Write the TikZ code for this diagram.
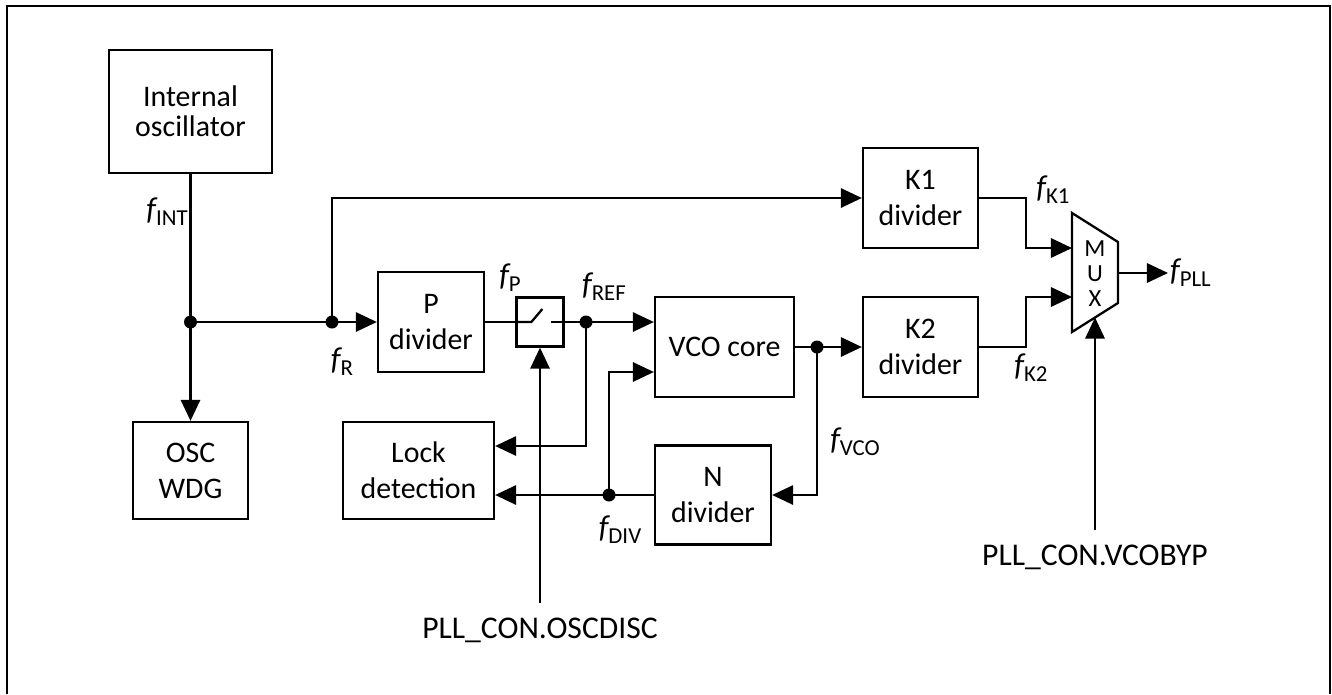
\documentclass[tikz,border=0pt]{standalone}
\usepackage{fontspec}
\setmainfont{Carlito}
\usetikzlibrary{arrows.meta,positioning}
\newcommand{\freq}[1]{{\fontsize{18}{18}\selectfont\itshape f}\raisebox{-3.5pt}{\fontsize{13}{13}\selectfont #1}}

\begin{document}
\begin{tikzpicture}[
    x=0.02cm, y=-0.02cm,
    box/.style={draw,line width=1.3pt,align=center,inner sep=0pt,minimum width=2.3cm,minimum height=2cm,font=\fontsize{17}{20.5}\selectfont},
    arrow/.style={-{Triangle[length=12pt,width=11pt]},line width=1.3pt},
    wire/.style={line width=1.3pt},
    dot/.style={circle,fill,inner sep=0pt,minimum size=0.26cm},
    flabel/.style={inner sep=1pt},
    ctrl/.style={inner xsep=0pt,inner ysep=8pt,font=\fontsize{18}{18}\selectfont}
  ]
    \useasboundingbox (0,0) rectangle (1332,694);
    \draw[line width=1.1pt] (7,694) -- (7,6) -- (1330,6) -- (1330,694);

    \node[box,minimum width=3.26cm,minimum height=2.46cm,font=\fontsize{17}{17}\selectfont] (osc) at (190.5,111.5) {Internal\\oscillator};
    \node[box,minimum height=1.94cm] (wdg) at (190.5,470.5) {OSC\\WDG};
    \node[box,minimum width=2.12cm] (pdiv) at (431,322) {P\\divider};
    \node[draw,line width=1.3pt,minimum width=0.94cm,minimum height=0.98cm,inner sep=0pt] (sw) at (540,322) {};
    \node[box,minimum width=2.78cm] (vco) at (724.5,347) {VCO core};
    \node[box] (k1div) at (920.5,198) {K1\\divider};
    \node[box] (k2div) at (920.5,347) {K2\\divider};
    \node[box,minimum width=3.02cm,minimum height=1.94cm] (lock) at (418.5,470.5) {Lock\\detection};
    \node[box,minimum width=2.32cm,minimum height=1.98cm] (ndiv) at (713,495) {N\\divider};

    \node[dot] (j1) at (190.5,322) {};
    \node[dot] (j2) at (332,322) {};
    \node[dot] (j3) at (586,322) {};
    \node[dot] (j4) at (609,495) {};
    \node[dot] (j5) at (817,347) {};

    \coordinate (mux-a) at (1072,213);
    \coordinate (mux-b) at (1118,242);
    \coordinate (mux-c) at (1118,303);
    \coordinate (mux-d) at (1072,332);
    \coordinate (mux-in1) at (1072,248);
    \coordinate (mux-in2) at (1072,297);
    \coordinate (mux-out) at (1118,273);
    \coordinate (mux-sel) at (1095,317.5);
    \draw[wire] (mux-a) -- (mux-b) -- (mux-c) -- (mux-d) -- cycle;
    \node[font=\fontsize{14}{14.2}\selectfont,align=center,inner sep=0pt] (muxtxt) at (1095,274) {M\\U\\X};

    \node[flabel] (fint) at (167,212) {\freq{INT}};
    \node[flabel] (fr) at (342,362) {\freq{R}};
    \node[flabel] (fp) at (510,278) {\freq{P}};
    \node[flabel] (fref) at (604,287) {\freq{REF}};
    \node[flabel] (fk1) at (1053,190) {\freq{K1}};
    \node[flabel] (fk2) at (1031,368) {\freq{K2}};
    \node[flabel] (fvco) at (855,442) {\freq{VCO}};
    \node[flabel] (fdiv) at (620,530) {\freq{DIV}};
    \node[flabel,anchor=west] (fpll) at (1168,273) {\freq{PLL}};

    \node[ctrl] (oscdisc) at (540,630) {PLL\_CON.OSCDISC};
    \node[ctrl] (vcobyp) at (1095,557) {PLL\_CON.VCOBYP};

    \draw[wire] (osc) -- (j1.center);
    \draw[arrow] (j1.center) -- (wdg);
    \draw[wire] (j1.center) -- (j2.center);
    \draw[arrow] (j2.center) -- (pdiv);
    \draw[arrow] (j2.center) |- (k1div);
    \draw[wire] (pdiv) -- (sw);
    \draw[wire] (sw.west) -- ++(16,0) -- ++(11,-13);
    \draw[wire] (sw.east) ++(-14,0) -- (j3.center);
    \draw[arrow] (j3.center) -- (vco.west |- j3);
    \draw[arrow] (j3.center) |- ([yshift=0.49cm]lock.east);
    \draw[arrow] (j4.center) -- (lock.east |- j4);
    \draw[arrow] (j4.center) |- ([yshift=-0.5cm]vco.west);
    \draw[wire] (ndiv) -- (j4.center);
    \draw[wire] (vco) -- (j5.center);
    \draw[arrow] (j5.center) -- (k2div);
    \draw[arrow] (j5.center) |- (ndiv);
    \draw[arrow] (k1div.east) -- ++(47,0) |- (mux-in1);
    \draw[arrow] (k2div.east) -- ++(47,0) |- (mux-in2);
    \draw[arrow] (mux-out) -- (fpll.west |- mux-out);
    \draw[arrow] (oscdisc) -- (sw);
    \draw[arrow] (vcobyp) -- (mux-sel);
  \end{tikzpicture}
\end{document}
